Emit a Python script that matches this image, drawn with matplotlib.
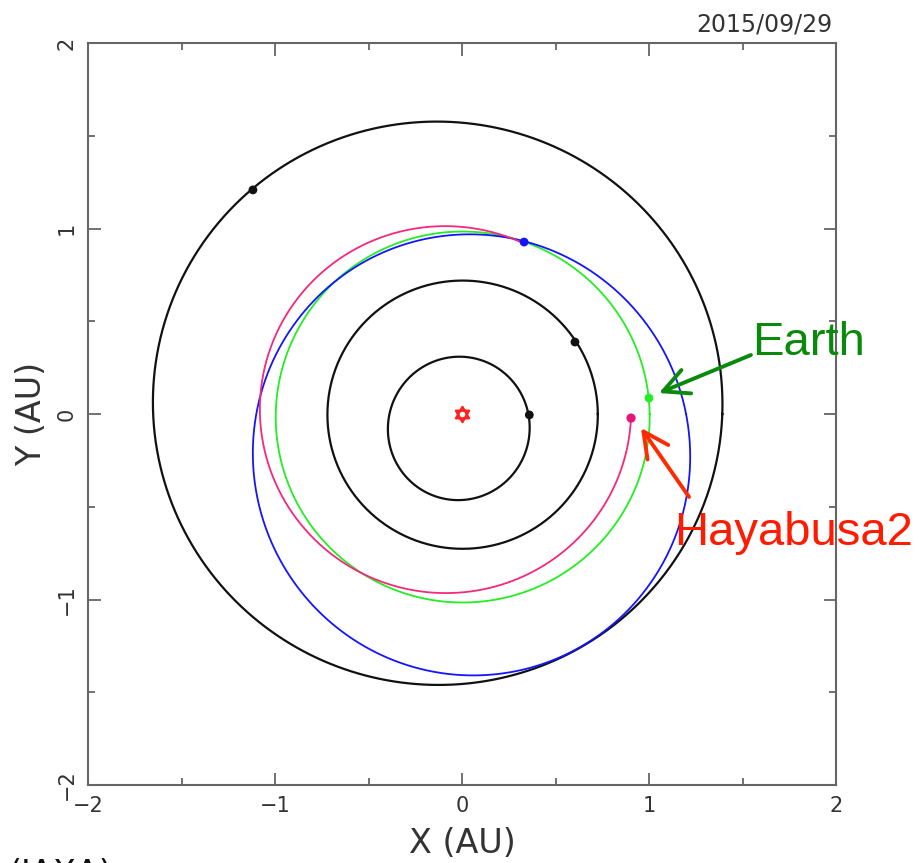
import numpy as np
import matplotlib
matplotlib.use("Agg")
import matplotlib.pyplot as plt
from matplotlib.path import Path
from matplotlib.ticker import MultipleLocator

# ---- data (AU, degrees) ----
orbit_names = ["Mercury", "Venus", "Earth", "Mars", "Ryugu"]
orbit_a = [0.387, 0.723, 1.000, 1.524, 1.190]
orbit_e = [0.2056, 0.0068, 0.0167, 0.0934, 0.190]
orbit_peri = [77.5, 131.5, 102.9, 336.0, 103.0]
orbit_colors = ["#111111", "#111111", "#22ee22", "#111111", "#1414ff"]
orbit_lw = [1.6, 1.6, 1.3, 1.6, 1.3]

body_x = [0.360, 0.604, 1.000, -1.118, 0.332]
body_y = [-0.005, 0.388, 0.086, 1.208, 0.927]

# Hayabusa2 trajectory since launch
hb_a, hb_e, hb_peri = 0.993, 0.092, 345.0
hb_start, hb_end = 70.3, 358.6
hb_x, hb_y = 0.904, -0.022

date_label = "2015/09/29"
ticks = [-2, -1, 0, 1, 2]


def conic(a, e, peri, t0=0.0, t1=360.0, n=720):
    th = np.radians(np.linspace(t0, t1, n))
    r = a * (1 - e ** 2) / (1 + e * np.cos(th - np.radians(peri)))
    return r * np.cos(th), r * np.sin(th)


fig = plt.figure(figsize=(9.19, 8.63), dpi=100)
ax = fig.add_axes([88 / 919, 1 - 785 / 863, 748 / 919, 742 / 863])

for a, e, p, c, lw in zip(orbit_a, orbit_e, orbit_peri, orbit_colors, orbit_lw):
    x, y = conic(a, e, p)
    ax.plot(x, y, color=c, lw=lw, zorder=2)

x, y = conic(hb_a, hb_e, hb_peri, hb_start, hb_end)
ax.plot(x, y, color="#f5287a", lw=1.3, zorder=3)

ax.scatter(body_x, body_y, s=40, c=orbit_colors, edgecolors="none", zorder=4)
ax.scatter([hb_x], [hb_y], s=44, c="#e8147a", edgecolors="none", zorder=5)

# Sun: hexagram marker
ang1 = np.radians([90, 210, 330, 90])
ang2 = np.radians([270, 30, 150, 270])
verts = list(zip(np.cos(ang1), np.sin(ang1))) + list(zip(np.cos(ang2), np.sin(ang2)))
codes = [Path.MOVETO, Path.LINETO, Path.LINETO, Path.CLOSEPOLY] * 2
star = Path(verts, codes)
ax.plot([0], [0], marker=star, ms=11, mfc="none", mec="#ff2020", mew=1.6, zorder=5)

# Annotations
ax.annotate("", xy=(1.053, 0.113), xytext=(1.545, 0.318),
            arrowprops=dict(arrowstyle="->, head_length=1.3, head_width=0.65",
                            color="#0a8a0a", lw=2.8, shrinkA=0, shrinkB=0,
                            mutation_scale=14),
            annotation_clip=False, zorder=6)
ax.annotate("", xy=(0.957, -0.075), xytext=(1.214, -0.447),
            arrowprops=dict(arrowstyle="->, head_length=1.3, head_width=0.65",
                            color="#ff2a00", lw=2.8, shrinkA=0, shrinkB=0,
                            mutation_scale=14),
            annotation_clip=False, zorder=6)
ax.text(1.551, 0.318, "Earth", color="#0a8a0a", fontsize=34,
        family="Liberation Sans", ha="left", va="baseline", clip_on=False)
ax.text(1.134, -0.706, "Hayabusa2", color="#ff1a00", fontsize=34,
        family="Liberation Sans", ha="left", va="baseline", clip_on=False)

# Axes styling
ax.set_xlim(-2, 2)
ax.set_ylim(-2, 2)
ax.set_xticks(ticks)
ax.set_yticks(ticks)
ax.xaxis.set_minor_locator(MultipleLocator(0.5))
ax.yaxis.set_minor_locator(MultipleLocator(0.5))
ax.tick_params(which="both", direction="in", top=True, right=True,
               color="#666666", width=1.3, labelcolor="#333333")
ax.tick_params(which="major", length=9, labelsize=15, pad=8)
ax.tick_params(which="minor", length=5)
ax.tick_params(axis="y", labelrotation=90)
for lab in ax.get_yticklabels():
    lab.set_va("center")
for sp in ax.spines.values():
    sp.set_color("#666666")
    sp.set_linewidth(1.5)

ax.set_xlabel("X (AU)", fontsize=24, color="#333333", labelpad=8)
ax.set_ylabel("Y (AU)", fontsize=24, color="#333333", labelpad=6)

fig.text(832 / 919, 1 - 24 / 863, date_label, ha="right", va="center",
         fontsize=17, color="#333333")
fig.text(8 / 919, 1 - 858 / 863, "(JAXA)", ha="left", va="top",
         fontsize=24, color="#111111")

fig.savefig("out.png", dpi=100)
